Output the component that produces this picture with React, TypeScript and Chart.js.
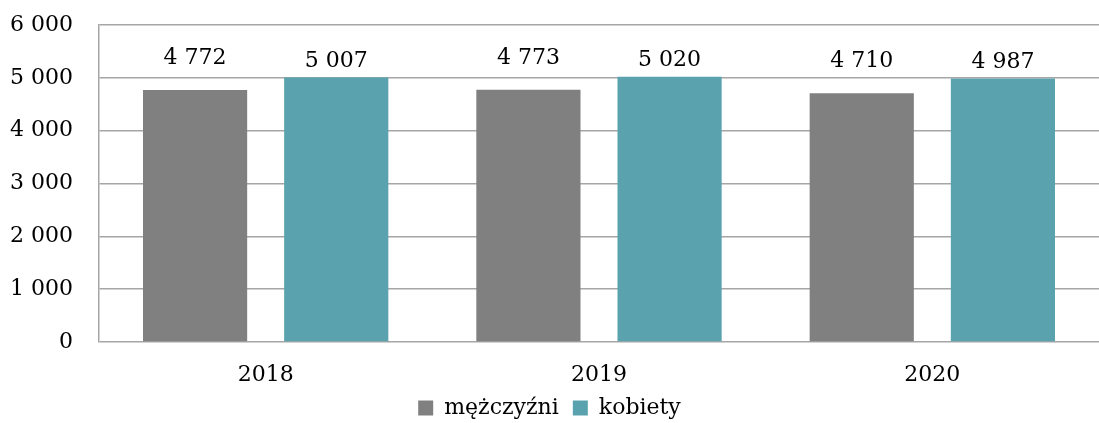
import React, { useEffect, useRef } from "react";
import { Chart, registerables } from "chart.js";

Chart.register(...registerables);

const categories = ["2018", "2019", "2020"];
const men = [4772, 4773, 4710];
const women = [5007, 5020, 4987];
const seriesNames = ["mężczyźni", "kobiety"];
const yTicks = [0, 1000, 2000, 3000, 4000, 5000, 6000];

const FONT = "'DejaVu Serif', serif";
const FS = 22;
const fmt = (v: number) => {
  const s = Math.round(v).toString();
  return s.replace(/\B(?=(\d{3})+(?!\d))/g, " ");
};

const labelPlugin = {
  id: "barLabels",
  afterDatasetsDraw(chart: any, _args: any, opts: any) {
    const ctx = chart.ctx;
    ctx.save();
    ctx.font = `${FS}px ${FONT}`;
    ctx.fillStyle = "#000";
    ctx.textAlign = "center";
    ctx.textBaseline = "middle";
    chart.data.datasets.forEach((ds: any, di: number) => {
      const meta = chart.getDatasetMeta(di);
      const lift = (opts.lift && opts.lift[di]) || 20;
      meta.data.forEach((el: any, i: number) => {
        ctx.fillText(fmt(ds.data[i]), el.x, el.y - lift);
      });
    });
    ctx.restore();
  },
};

export default function App() {
  const ref = useRef<HTMLCanvasElement>(null);
  useEffect(() => {
    document.body.style.margin = "0";
    const chart = new Chart(ref.current!, {
      type: "bar",
      data: {
        labels: categories,
        datasets: [
          {
            label: seriesNames[0],
            data: men,
            backgroundColor: "#808080",
            categoryPercentage: 0.847,
            barPercentage: 0.738,
          },
          {
            label: seriesNames[1],
            data: women,
            backgroundColor: "#5AA3AE",
            categoryPercentage: 0.847,
            barPercentage: 0.738,
          },
        ],
      },
      options: {
        animation: false,
        responsive: false,
        maintainAspectRatio: false,
        layout: { padding: { top: 25, right: 0, left: 0, bottom: -6 } },
        plugins: {
          tooltip: { enabled: false },
          legend: {
            position: "bottom",
            labels: {
              font: { family: FONT, size: FS },
              color: "#000",
              boxWidth: 15,
              boxHeight: 15,
              padding: 14,
            },
          },
          barLabels: { lift: [32, 16] },
        } as any,
        scales: {
          x: {
            grid: { display: false },
            border: { display: false },
            afterFit: (scale: any) => {
              scale.height = 41;
            },
            ticks: {
              font: { family: FONT, size: FS },
              color: "#000",
              padding: 12,
            },
          },
          y: {
            min: 0,
            max: 6000,
            afterBuildTicks: (scale: any) => {
              scale.ticks = yTicks.map((v) => ({ value: v }));
            },
            afterFit: (scale: any) => {
              scale.width = 99;
              scale.paddingTop = 0;
              scale.paddingBottom = 0;
            },
            grid: {
              color: "#A6A6A6",
              lineWidth: 1.5,
              drawTicks: false,
            },
            border: { display: true, color: "#A6A6A6", width: 1.5 },
            ticks: {
              font: { family: FONT, size: FS },
              color: "#000",
              padding: 26,
              callback: (v: any) => fmt(Number(v)),
            },
          },
        },
      },
      plugins: [labelPlugin],
    });
    return () => chart.destroy();
  }, []);
  return (
    <div style={{ position: "absolute", left: 0, top: 0, width: 1099, height: 423 }}>
      <canvas ref={ref} width={1099} height={423} style={{ width: 1099, height: 423 }} />
    </div>
  );
}
